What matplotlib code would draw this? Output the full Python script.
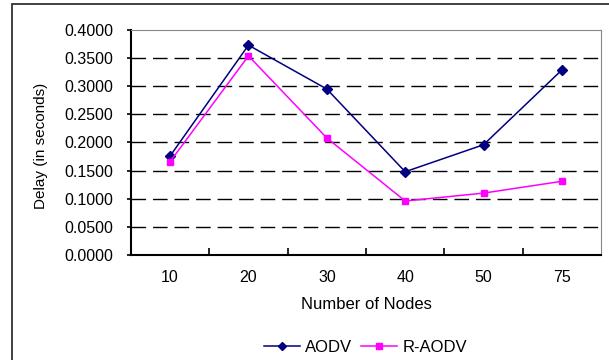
import numpy as np
import matplotlib.pyplot as plt
from matplotlib.patches import Rectangle

plt.rcParams['font.family'] = ['Liberation Sans', 'DejaVu Sans']

# Delay measurements per node count
nodes = ['10', '20', '30', '40', '50', '75']
aodv = [0.176, 0.373, 0.295, 0.148, 0.196, 0.329]
r_aodv = [0.166, 0.354, 0.208, 0.096, 0.110, 0.131]
yticks = np.arange(0, 0.40001, 0.05)

fig = plt.figure(figsize=(6.09, 3.6), dpi=100)
ax = fig.add_axes([0.215, 0.2917, 0.772, 0.625])

x = np.arange(len(nodes))
ax.plot(x, aodv, color='#000080', marker='D', markersize=5, linewidth=1.1, label='AODV')
ax.plot(x, r_aodv, color='#FF00FF', marker='s', markersize=5, linewidth=1.1, label='R-AODV')

ax.set_xlim(-0.5, len(nodes) - 0.5)
ax.set_ylim(0, 0.4)
ax.set_yticks(yticks)
ax.set_yticklabels([f'{v:.4f}' for v in yticks], fontsize=11.5)
ax.set_xticks(x)
ax.set_xticklabels(nodes, fontsize=11.5)
ax.tick_params(axis='x', length=0, pad=11)
ax.set_xticks(np.arange(0.5, len(nodes) - 0.5), minor=True)
ax.tick_params(axis='x', which='minor', direction='in', length=5, width=1.2)
ax.tick_params(axis='y', direction='out', length=3, width=1.2, pad=10)

for v in yticks[1:-1]:
    ax.axhline(v, color='black', linestyle=(0, (10.5, 5)), linewidth=1.0, zorder=0)

ax.spines['left'].set_linewidth(1.5)
ax.spines['bottom'].set_linewidth(1.5)
ax.spines['top'].set_color('#888888')
ax.spines['right'].set_color('#888888')

ax.set_xlabel('Number of Nodes', fontsize=12)
ax.xaxis.set_label_coords(0.5, -0.185)
ax.set_ylabel('Delay (in seconds)', fontsize=11)
ax.yaxis.set_label_coords(-0.177, 0.484)

fig.legend(loc='center', bbox_to_anchor=(0.6, 0.034), ncol=2, frameon=False,
           fontsize=12, handlelength=2.2, columnspacing=0.5, handletextpad=0.3,
           markerscale=0.9)

# outer chart frame
fig.patches.append(Rectangle((12 / 609, -0.05), 1.0, 1.0 - 4 / 360 + 0.05,
                             transform=fig.transFigure, fill=False,
                             edgecolor='#333333', linewidth=1.3))

fig.savefig('out.png', dpi=100)
